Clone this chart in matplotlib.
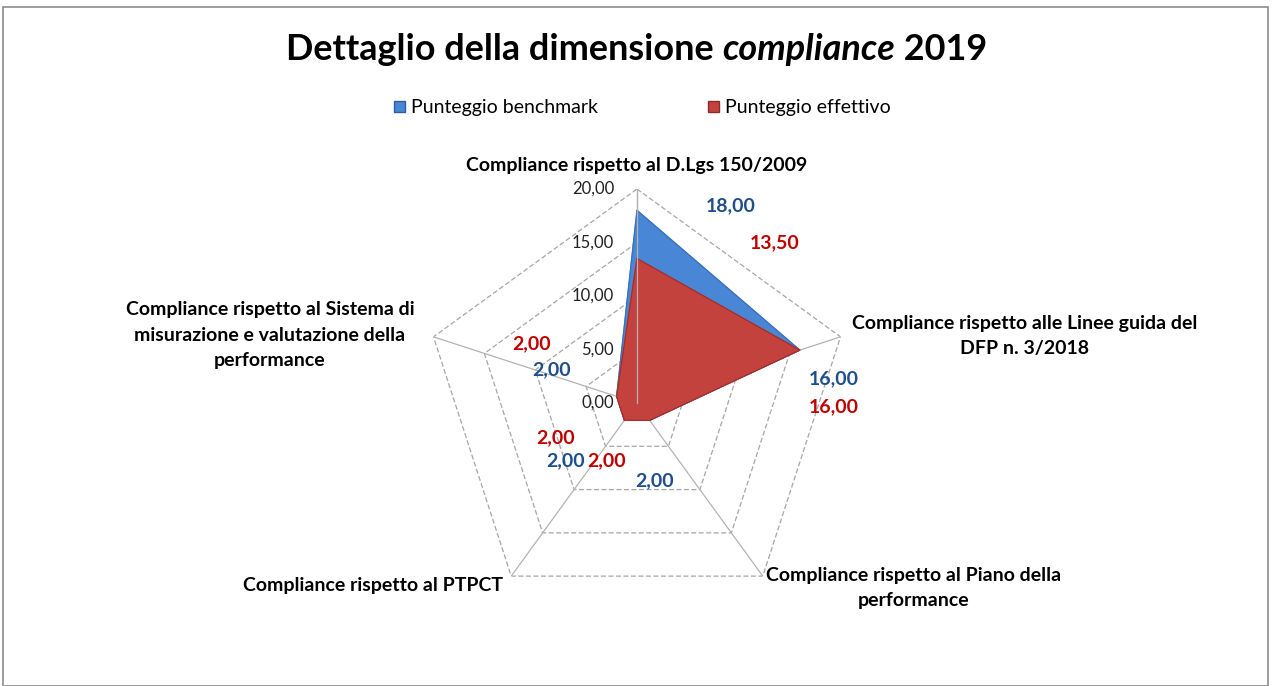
import numpy as np
import matplotlib
matplotlib.use("Agg")
import matplotlib.pyplot as plt
from matplotlib.patches import Rectangle, Patch

# ---- data ----
categories = [
    "Compliance rispetto al D.Lgs 150/2009",
    "Compliance rispetto alle Linee guida del\nDFP n. 3/2018",
    "Compliance rispetto al Piano della\nperformance",
    "Compliance rispetto al PTPCT",
    "Compliance rispetto al Sistema di\nmisurazione e valutazione della\nperformance",
]
benchmark = [18.00, 16.00, 2.00, 2.00, 2.00]
effettivo = [13.50, 16.00, 2.00, 2.00, 2.00]
series_names = ["Punteggio benchmark", "Punteggio effettivo"]
rticks = [0, 5, 10, 15, 20]
title_main = "Dettaglio della dimensione "
title_ital = "compliance"
title_year = " 2019"

def fmt(v):
    return f"{v:.2f}".replace(".", ",")

W, H = 1272, 686
fig = plt.figure(figsize=(W / 100, H / 100), dpi=100)
fig.patch.set_facecolor("white")

# outer border
fig.add_artist(Rectangle((3 / W, 0), 1265 / W, (H - 7) / H, transform=fig.transFigure,
                         fill=False, edgecolor="#8c8c8c", linewidth=1.2))

cx, cy, R = 637, 403, 214
ax = fig.add_axes([(cx - R) / W, (H - cy - R) / H, 2 * R / W, 2 * R / H], projection="polar")
ax.set_theta_zero_location("N")
ax.set_theta_direction(-1)
ax.set_ylim(0, rticks[-1])
ax.grid(False)
ax.set_xticks([])
ax.set_yticks([])
ax.spines["polar"].set_visible(False)
ax.patch.set_alpha(0)

n = len(categories)
ang = np.linspace(0, 2 * np.pi, n, endpoint=False)
ang_c = np.append(ang, ang[0])

# grid rings
for r in rticks[1:]:
    ax.plot(ang_c, [r] * (n + 1), color="#a6a6a6", lw=0.9, ls=(0, (4, 2)), zorder=1)
# spokes
for a in ang:
    ax.plot([a, a], [0, rticks[-1]], color="#b3b3b3", lw=0.9, zorder=1)

# series
b = np.append(benchmark, benchmark[0])
e = np.append(effettivo, effettivo[0])
ax.fill(ang_c, b, color="#4a86d6", zorder=2)
ax.plot(ang_c, b, color="#3a6fb8", lw=0.8, zorder=2)
ax.fill(ang_c, e, color="#c4423e", zorder=3)
ax.plot(ang_c, e, color="#9e2e2b", lw=0.8, zorder=3)
ax.plot([0, 0], [0, rticks[-1]], color="#b3b3b3", lw=0.9, zorder=4)

# radial tick labels
for r in rticks:
    ax.annotate(fmt(r), xy=(0, r), xytext=(-23, 0), textcoords="offset pixels",
                ha="right", va="center", fontsize=12, family="Lato", color="#222222",
                zorder=5)

# data labels (offsets in pixels from each point)
blue_lab = "#1f4e8c"
red_lab = "#c00000"
off_b = [(94, 5), (34, -29), (5, -60), (-59, -40), (-65, 27)]
off_e = [(138, 16), (34, -57), (-43, -40), (-69, -17), (-85, 53)]
for i in range(n):
    ax.annotate(fmt(benchmark[i]), xy=(ang[i], benchmark[i]), xytext=off_b[i],
                textcoords="offset pixels", ha="center", va="center",
                fontsize=14, fontweight="bold", family="Lato", color=blue_lab, zorder=6)
    ax.annotate(fmt(effettivo[i]), xy=(ang[i], effettivo[i]), xytext=off_e[i],
                textcoords="offset pixels", ha="center", va="center",
                fontsize=14, fontweight="bold", family="Lato", color=red_lab, zorder=6)

# category labels
cat_pos = [(637, 165), (1025, 336), (914, 588), (373, 585), (270, 335)]
for (x, y), lab in zip(cat_pos, categories):
    fig.text(x / W, 1 - y / H, lab, ha="center", va="center", fontsize=14, fontweight="bold",
             family="Lato", color="black", linespacing=1.6)

# title (mixed style), scaled to reference width
def build_title(size):
    tfont = dict(fontsize=size, fontweight="bold", family="Lato")
    ts = [fig.text(0, 0, title_main, **tfont),
          fig.text(0, 0, title_ital, style="italic", **tfont),
          fig.text(0, 0, title_year, **tfont)]
    fig.canvas.draw()
    rend = fig.canvas.get_renderer()
    ws = [t.get_window_extent(rend).width for t in ts]
    return ts, ws

ts, ws = build_title(24)
target = 703
size = 24 * target / sum(ws)
for t in ts:
    t.remove()
ts, ws = build_title(size)
x0 = 637 - sum(ws) / 2
ty = 1 - 49 / H
for t, w in zip(ts, ws):
    t.set_position((x0 / W, ty))
    t.set_va("center")
    x0 += w

# legend
handles = [Patch(facecolor="#4a86d6", edgecolor="#2e5c9a"),
           Patch(facecolor="#c4423e", edgecolor="#8e2a27")]
fig.legend(handles, series_names, loc="center left", bbox_to_anchor=(394 / W, 1 - 108 / H),
           ncol=2, frameon=False, handlelength=0.55, handleheight=0.55,
           handletextpad=0.3, columnspacing=5.7, borderpad=0, borderaxespad=0,
           prop={"family": "Lato", "size": 14})

fig.savefig("out.png", dpi=100, facecolor="white")
